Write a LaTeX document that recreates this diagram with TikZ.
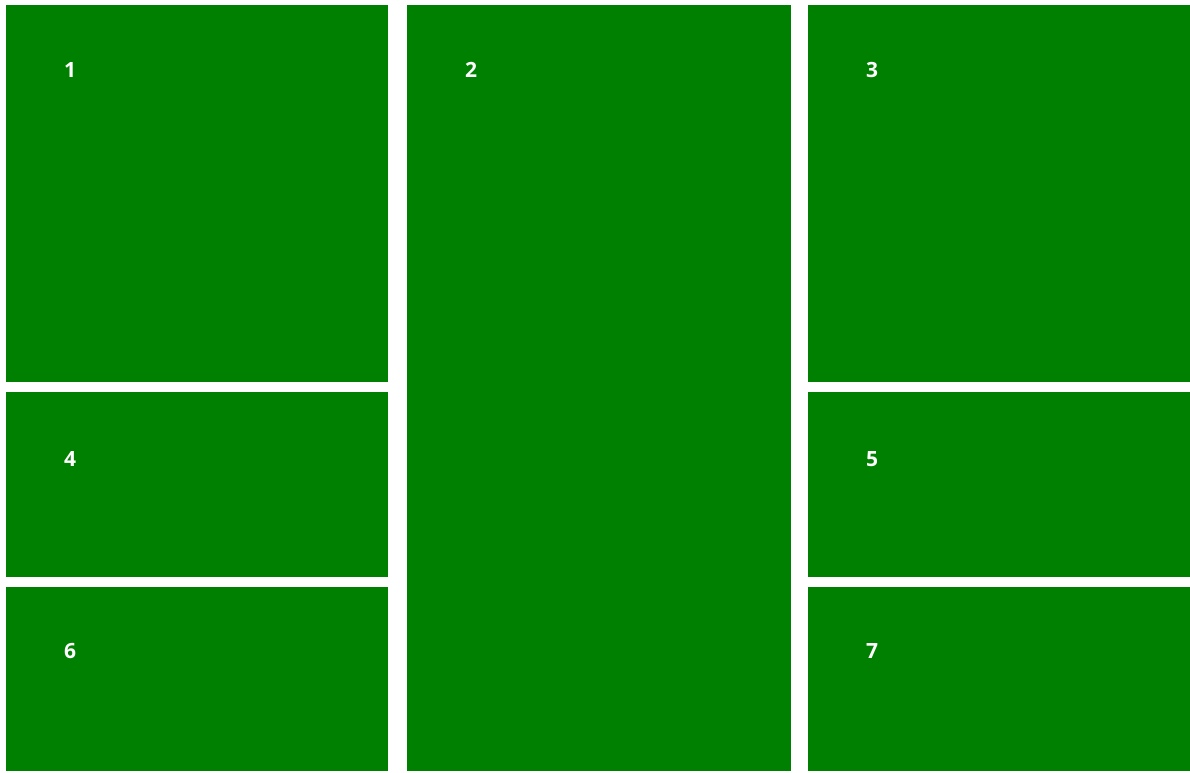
\documentclass[tikz,border=0pt]{standalone}
\usepackage{fontspec}
\setmainfont{Open Sans}
\definecolor{tilegreen}{HTML}{008000}
\begin{document}
\begin{tikzpicture}[x=1pt,y=-1pt,
  tile/.style={fill=tilegreen,draw=none},
  lbl/.style={text=white,font=\fontsize{21}{24}\selectfont\bfseries,inner sep=0pt,anchor=center}]
\useasboundingbox (0,0) rectangle (1190,772);
\fill[white] (0,0) rectangle (1190,772);
\fill[tile] (6,5) rectangle (388,382);
\fill[tile] (407,5) rectangle (791,771);
\fill[tile] (808,5) rectangle (1190,382);
\fill[tile] (6,392) rectangle (388,577);
\fill[tile] (808,392) rectangle (1190,577);
\fill[tile] (6,587) rectangle (388,771);
\fill[tile] (808,587) rectangle (1190,771);
\node[lbl] (l1) at (70,70) {1};
\node[lbl] (l2) at (471,70) {2};
\node[lbl] (l3) at (872,70) {3};
\node[lbl] (l4) at (70,459) {4};
\node[lbl] (l5) at (872,459) {5};
\node[lbl] (l6) at (70,651) {6};
\node[lbl] (l7) at (872,651) {7};
\end{tikzpicture}
\end{document}
